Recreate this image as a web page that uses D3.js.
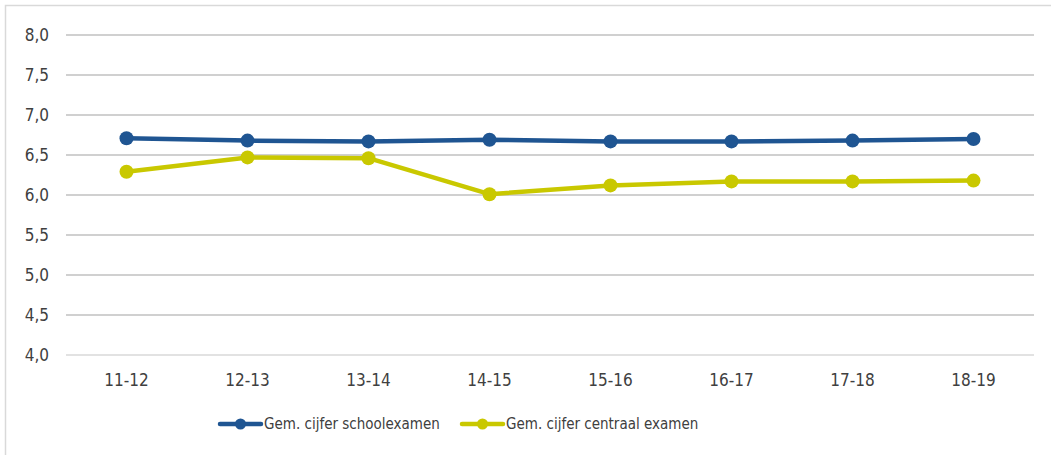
<!DOCTYPE html>
<html>
<head>
<meta charset="utf-8">
<script src="https://cdn.jsdelivr.net/npm/d3@7"></script>
<style>
  body { margin: 0; background: #fff; }
  text { font-family: "DejaVu Sans Condensed", "DejaVu Sans", sans-serif; fill: #404040; }
</style>
</head>
<body>
<div id="chart"></div>
<script>
var width = 1051,
  height = 455;

// data
var categories = ["11-12", "12-13", "13-14", "14-15", "15-16", "16-17", "17-18", "18-19"];
var schoolexamen = [6.71, 6.68, 6.67, 6.69, 6.67, 6.67, 6.68, 6.70];
var centraalExamen = [6.29, 6.47, 6.46, 6.01, 6.12, 6.17, 6.17, 6.18];
var yTicks = [4.0, 4.5, 5.0, 5.5, 6.0, 6.5, 7.0, 7.5, 8.0];
var seriesNames = ["Gem. cijfer schoolexamen", "Gem. cijfer centraal examen"];
var seriesColors = ["#1F5592", "#C9C800"];

var series = [
  { name: seriesNames[0], color: seriesColors[0], values: schoolexamen },
  { name: seriesNames[1], color: seriesColors[1], values: centraalExamen }
];

var svg = d3.select("#chart").append("svg")
  .attr("width", width)
  .attr("height", height);

// frame (only top and left visible in the picture)
svg.append("path")
  .attr("d", "M5.5," + height + "V5.5H" + width)
  .attr("fill", "none")
  .attr("stroke", "#D9D9D9")
  .attr("stroke-width", 1.5);

var x = d3.scaleBand()
  .domain(categories)
  .range([66, 1034]);

var y = d3.scaleLinear()
  .domain([4, 8])
  .range([355, 35]);

// grid lines
svg.append("g")
  .selectAll("line")
  .data(yTicks)
  .enter()
  .append("line")
  .attr("x1", 66)
  .attr("x2", 1034)
  .attr("y1", function (d) { return y(d); })
  .attr("y2", function (d) { return y(d); })
  .attr("stroke", function (d) { return d === 4 ? "#D9D9D9" : "#C0C0C0"; })
  .attr("stroke-width", 1.5);

// y labels
svg.append("g")
  .selectAll("text")
  .data(yTicks)
  .enter()
  .append("text")
  .attr("x", 49)
  .attr("y", function (d) { return y(d); })
  .attr("dy", "0.35em")
  .attr("text-anchor", "end")
  .style("font-size", "17px")
  .text(function (d) { return d.toFixed(1).replace(".", ","); });

// x labels
svg.append("g")
  .selectAll("text")
  .data(categories)
  .enter()
  .append("text")
  .attr("x", function (d) { return x(d) + x.bandwidth() / 2; })
  .attr("y", 386)
  .attr("text-anchor", "middle")
  .style("font-size", "17px")
  .text(function (d) { return d; });

var line = d3.line()
  .x(function (d, i) { return x(categories[i]) + x.bandwidth() / 2; })
  .y(function (d) { return y(d); });

var g = svg.selectAll(".series")
  .data(series)
  .enter()
  .append("g")
  .attr("class", "series");

g.append("path")
  .attr("d", function (d) { return line(d.values); })
  .attr("fill", "none")
  .attr("stroke", function (d) { return d.color; })
  .attr("stroke-width", 4.5)
  .attr("stroke-linejoin", "round");

g.each(function (s) {
  d3.select(this).selectAll("circle")
    .data(s.values)
    .enter()
    .append("circle")
    .attr("cx", function (d, i) { return x(categories[i]) + x.bandwidth() / 2; })
    .attr("cy", function (d) { return y(d); })
    .attr("r", 7)
    .attr("fill", s.color);
});

// legend
var legendX = [220, 462];
var legend = svg.selectAll(".legend")
  .data(series)
  .enter()
  .append("g")
  .attr("class", "legend")
  .attr("transform", function (d, i) { return "translate(" + legendX[i] + ",424)"; });

legend.append("line")
  .attr("x1", 0)
  .attr("x2", 41)
  .attr("stroke", function (d) { return d.color; })
  .attr("stroke-width", 4.5)
  .attr("stroke-linecap", "round");

legend.append("circle")
  .attr("cx", 20.5)
  .attr("r", 5.5)
  .attr("fill", function (d) { return d.color; });

legend.append("text")
  .attr("x", 44)
  .attr("dy", "0.35em")
  .style("font-size", "15px")
  .text(function (d) { return d.name; });
</script>
</body>
</html>
